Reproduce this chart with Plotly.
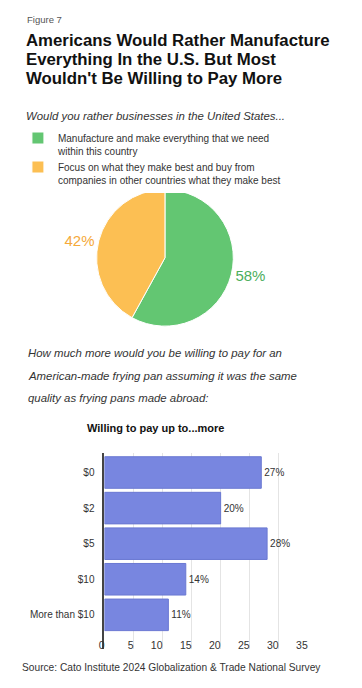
import plotly.graph_objects as go

W, H = 362, 688
OFF = 8      # page body margin compensation
ANN_DX = -7  # extra horizontal correction for annotations

# ---- data ----
pie_labels = ["Manufacture and make everything that we need<br>within this country",
              "Focus on what they make best and buy from<br>companies in other countries what they make best"]
pie_values = [58, 42]
pie_colors = ["#63c672", "#fcbf53"]
pie_text_colors = ["#4cae5c", "#f5a93a"]

bar_categories = ["$0", "$2", "$5", "$10", "More than $10"]
bar_values = [27, 20, 28, 14, 11]
bar_color = "#7886e0"
x_ticks = [0, 5, 10, 15, 20, 25, 30, 35]

title_lines = ["Americans Would Rather Manufacture",
               "Everything In the U.S. But Most",
               "Wouldn't Be Willing to Pay More"]
question2_lines = ["How much more would you be willing to pay for an",
                   "American-made frying pan assuming it was the same",
                   "quality as frying pans made abroad:"]

BODY = "Liberation Sans, Arial, sans-serif"
TITLE = "Liberation Sans, Arial, sans-serif"


def py(px):
    return 1 - (px - OFF) / H


def px_x(px):
    return (px - OFF) / W


def ax_x(px):
    return (px - OFF + ANN_DX) / W


fig = go.Figure()

pcx, pcy, pr = 161.5, 257.8, 69.5
fig.add_trace(go.Pie(
    labels=pie_labels, values=pie_values, sort=False, direction="clockwise",
    rotation=0,
    marker=dict(colors=pie_colors, line=dict(color="white", width=1)),
    textinfo="percent", texttemplate="%{percent:.0%}", textposition="outside",
    textfont=dict(size=15, color=pie_text_colors, family=BODY),
    domain=dict(x=[px_x(pcx - pr), px_x(pcx + pr)], y=[py(pcy + pr), py(pcy - pr)]),
    showlegend=True, hoverinfo="skip",
))

fig.add_trace(go.Bar(
    y=bar_categories, x=bar_values, orientation="h",
    marker=dict(color=bar_color, line=dict(color="#6a78d2", width=1)),
    texttemplate="%{x}%", textposition="outside",
    textfont=dict(size=10, color="#333", family=BODY),
    cliponaxis=False, showlegend=False, hoverinfo="skip",
))

x0, x35 = 100, 306.7
ppu = (x35 - x0) / 35
xmax = 35.1

fig.update_layout(
    width=W, height=H, margin=dict(l=0, r=0, t=0, b=0),
    paper_bgcolor="white", plot_bgcolor="white",
    font=dict(family=BODY, color="#333"),
    bargap=0.113,
    legend=dict(x=px_x(12), y=py(125), xanchor="left", yanchor="top",
                font=dict(size=10, color="#333", family=BODY),
                valign="top", tracegroupgap=4, itemclick=False),
    xaxis=dict(domain=[px_x(x0), px_x(x0 + xmax * ppu)], range=[0, xmax],
               tickvals=x_ticks, showgrid=True, gridcolor="#e4e4e4", gridwidth=1,
               zeroline=False, showline=False, ticks="",
               ticklabelposition="inside left", ticklabeloverflow="allow",
               ticklabelstandoff=-8,
               tickfont=dict(size=10.5, color="#333"), fixedrange=True),
    yaxis=dict(domain=[py(649), py(453.3)], range=[4.96, -0.54],
               showline=True, linecolor="#444", linewidth=2, showgrid=False,
               zeroline=False, ticks="", ticklabelstandoff=6,
               tickfont=dict(size=10, color="#333"), fixedrange=True),
)

ann = []
ann.append(dict(text="Figure 7", x=ax_x(26), y=py(19.5), xanchor="left", yanchor="middle",
                font=dict(size=9.5, color="#555", family=BODY)))
for i, t in enumerate(title_lines):
    ann.append(dict(text="<b>%s</b>" % t, x=ax_x(25), y=py(41 + 18.7 * i), xanchor="left",
                    yanchor="middle", font=dict(size=16.8, color="#111", family=TITLE)))
ann.append(dict(text="<i>Would you rather businesses in the United States...</i>", x=ax_x(25),
                y=py(115.7), xanchor="left", yanchor="middle",
                font=dict(size=11.4, color="#333", family=BODY)))
for i, t in enumerate(question2_lines):
    ann.append(dict(text="<i>%s</i>" % t, x=ax_x(27), y=py(353 + 22.5 * i), xanchor="left",
                    yanchor="middle", font=dict(size=11.4, color="#333", family=BODY)))
ann.append(dict(text="<b>Willing to pay up to...more</b>", x=ax_x(159), y=py(428),
                xanchor="center", yanchor="middle",
                font=dict(size=11, color="#111", family=BODY)))
ann.append(dict(text="Source: Cato Institute 2024 Globalization &amp; Trade National Survey",
                x=ax_x(21), y=py(667.7), xanchor="left", yanchor="middle",
                font=dict(size=10.2, color="#333", family=BODY)))
for a in ann:
    a.update(xref="paper", yref="paper", showarrow=False)
fig.update_layout(annotations=ann)

fig.write_html("out.html")
